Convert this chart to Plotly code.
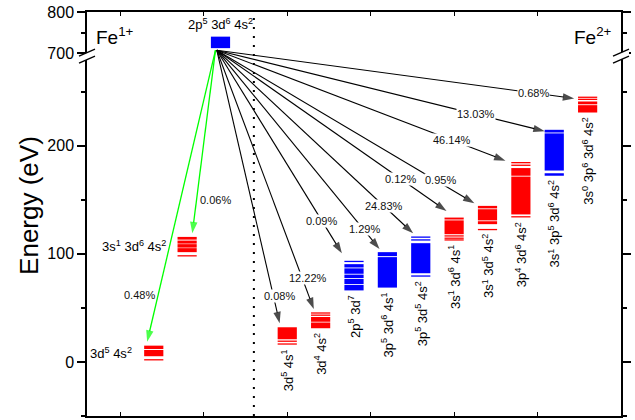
import plotly.graph_objects as go

# ---------------- data ----------------
# electron configurations (Fe1+ first, then Fe2+)
CONFIG_LABELS = [
    "3d<sup>5</sup> 4s<sup>2</sup>",
    "3s<sup>1</sup> 3d<sup>6</sup> 4s<sup>2</sup>",
    "2p<sup>5</sup> 3d<sup>6</sup> 4s<sup>2</sup>",
    "3d<sup>5</sup> 4s<sup>1</sup>",
    "3d<sup>4</sup> 4s<sup>2</sup>",
    "2p<sup>5</sup> 3d<sup>7</sup>",
    "3p<sup>5</sup> 3d<sup>6</sup> 4s<sup>1</sup>",
    "3p<sup>5</sup> 3d<sup>5</sup> 4s<sup>2</sup>",
    "3s<sup>1</sup> 3d<sup>6</sup> 4s<sup>1</sup>",
    "3s<sup>1</sup> 3d<sup>5</sup> 4s<sup>2</sup>",
    "3p<sup>4</sup> 3d<sup>6</sup> 4s<sup>2</sup>",
    "3s<sup>1</sup> 3p<sup>5</sup> 3d<sup>6</sup> 4s<sup>2</sup>",
    "3s<sup>0</sup> 3p<sup>6</sup> 3d<sup>6</sup> 4s<sup>2</sup>",
]
CONFIG_X = [1.4, 1.8, 2.2, 3.0, 3.4, 3.8, 4.2, 4.6, 5.0, 5.4, 5.8, 6.2, 6.6]
CONFIG_KIND = ["r", "r", "b", "r", "r", "b", "b", "b", "r", "r", "r", "b", "r"]

# energy bands (eV) filled solid, and isolated levels (eV)
LEVEL_BANDS = [
    [[5.3, 11.1], [12.0, 15.1]],
    [[101.6, 105.3], [105.8, 109.0], [109.5, 112.3], [113.2, 115.7]],
    [[712.0, 740.0]],
    [[21.0, 32.1]],
    [[31.2, 36.5], [37.2, 41.6]],
    [[66.2, 71.2], [72.0, 76.8], [77.6, 80.8], [81.6, 86.6], [87.4, 90.5]],
    [[68.8, 97.0], [97.9, 101.6]],
    [[82.1, 109.9]],
    [[118.2, 131.0], [131.8, 133.6]],
    [[127.5, 130.2], [131.0, 141.3], [142.1, 144.4]],
    [[136.5, 171.5], [172.3, 179.4]],
    [[172.3, 174.6], [177.1, 211.5], [212.3, 214.8]],
    [[230.8, 237.6], [238.4, 241.0]],
]
LEVEL_LINES = [
    [2.0],
    [98.2],
    [],
    [19.2, 16.6],
    [43.3, 45.3],
    [93.0],
    [],
    [115.5, 112.9, 79.5],
    [116.6, 114.5, 112.9],
    [122.5],
    [184.4, 182.0, 134.3],
    [],
    [243.0, 244.9],
]

# decay channels out of the 2p5 3d6 4s2 level of Fe1+
ARROW_SOURCE_X = 2.155
ARROW_SOURCE_E = 707.0
ARROW_END_X = [2.909, 3.318, 3.655, 4.106, 4.509, 4.909, 5.243, 5.615, 6.086, 6.439, 1.862, 1.321]
ARROW_END_E = [35.8, 49.0, 100.5, 104.5, 119.0, 139.7, 146.8, 186.2, 213.5, 243.8, 119.0, 18.7]
ARROW_BRANCH = ["0.08%", "12.22%", "0.09%", "1.29%", "24.83%", "0.12%", "0.95%",
                "46.14%", "13.03%", "0.68%", "0.06%", "0.48%"]
ARROW_KIND = ["k"] * 10 + ["g", "g"]

Y_TICKS = [0, 100, 200, 700, 800]
Y_MINOR = [-50, 50, 150, 250, 750]
X_TICKS = [1, 2, 3, 4, 5, 6]

# ---------------- styling ----------------
COLORS = {"r": "#FF0000", "b": "#0000FF"}
ARROW_COLORS = {"k": "#000000", "g": "#00FF00"}
FONT = "Liberation Sans, Arial, sans-serif"
HALF_W = 0.115

# label placement along each arrow: fraction of the way + pixel offsets
LABEL_T = [0.90, 0.88, 0.84, 0.91, 0.85, 0.80, 0.87, 0.815, 0.79, 0.886, 0.82, 0.84]
LABEL_DX = [6, 6, 0, 0, 0, 0, 0, 0, 0, 0, 19, -19]
LABEL_DY = [0, 0, 0, 2, 0, 0, 3, 0, 0, 0, 0, 0]

# broken energy axis: lower part in eV as is, upper part compressed
LOW_TOP = 282.0
HIGH_START = 690.0
HIGH_SCALE = 0.38


def disp(e):
    """Map an energy (eV) onto the broken axis coordinate."""
    if e <= LOW_TOP:
        return e
    return LOW_TOP + (e - HIGH_START) * HIGH_SCALE


fig = go.Figure()
shapes = []
annotations = []

# energy level manifolds
for i, x in enumerate(CONFIG_X):
    col = COLORS[CONFIG_KIND[i]]
    for lo, hi in LEVEL_BANDS[i]:
        shapes.append(dict(type="rect", xref="x", yref="y",
                           x0=x - HALF_W, x1=x + HALF_W, y0=disp(lo), y1=disp(hi),
                           fillcolor=col, line=dict(width=0), layer="below"))
    for e in LEVEL_LINES[i]:
        shapes.append(dict(type="line", xref="x", yref="y",
                           x0=x - HALF_W, x1=x + HALF_W, y0=disp(e), y1=disp(e),
                           line=dict(color=col, width=1.3), layer="below"))

# decay arrows
y_src = disp(ARROW_SOURCE_E)
for k in range(len(ARROW_END_X)):
    col = ARROW_COLORS[ARROW_KIND[k]]
    x1 = ARROW_END_X[k]
    y1 = disp(ARROW_END_E[k])
    x0 = ARROW_SOURCE_X - (0.015 if ARROW_KIND[k] == "g" else 0.0)
    fig.add_trace(go.Scatter(
        x=[x0, x1], y=[y_src, y1], mode="lines+markers",
        line=dict(color=col, width=1.3 if ARROW_KIND[k] == "g" else 1.1),
        marker=dict(symbol=["circle", "arrow"], size=[0, 12], color=col,
                    angleref="previous", line=dict(width=0)),
        hoverinfo="skip", showlegend=False, cliponaxis=False))
    t = LABEL_T[k]
    annotations.append(dict(
        x=x0 + t * (x1 - x0), y=y_src + t * (y1 - y_src), xref="x", yref="y",
        text=ARROW_BRANCH[k], showarrow=False, font=dict(size=11, color="#111", family=FONT),
        bgcolor="white" if ARROW_KIND[k] == "k" else "rgba(0,0,0,0)", borderpad=0,
        xshift=LABEL_DX[k], yshift=LABEL_DY[k]))

# configuration labels
for i, x in enumerate(CONFIG_X):
    lows = [b[0] for b in LEVEL_BANDS[i]] + LEVEL_LINES[i]
    highs = [b[1] for b in LEVEL_BANDS[i]] + LEVEL_LINES[i]
    bottom, top = min(lows), max(highs)
    if x > 2.6:
        annotations.append(dict(x=x, y=disp(bottom), xref="x", yref="y",
                                text=CONFIG_LABELS[i], textangle=-90, showarrow=False,
                                xanchor="center", yanchor="top", yshift=-3,
                                font=dict(size=13, color="black", family=FONT)))
    elif top > LOW_TOP:
        annotations.append(dict(x=x, y=disp(top), xref="x", yref="y",
                                text=CONFIG_LABELS[i], showarrow=False,
                                xanchor="center", yanchor="bottom", yshift=3,
                                font=dict(size=13, color="black", family=FONT)))
    else:
        annotations.append(dict(x=x - HALF_W, y=disp((bottom + top) / 2), xref="x", yref="y",
                                text=CONFIG_LABELS[i], showarrow=False,
                                xanchor="right", yanchor="middle", xshift=-10,
                                font=dict(size=13, color="black", family=FONT)))

# ion labels
annotations.append(dict(x=0, y=1, xref="paper", yref="paper", text="Fe<sup>1+</sup>",
                        showarrow=False, xanchor="left", yanchor="top", xshift=7, yshift=-10,
                        font=dict(size=19, color="black", family=FONT)))
annotations.append(dict(x=1, y=1, xref="paper", yref="paper", text="Fe<sup>2+</sup>",
                        showarrow=False, xanchor="right", yanchor="top", xshift=-7, yshift=-10,
                        font=dict(size=19, color="black", family=FONT)))

# axis title
annotations.append(dict(x=0, y=0.52, xref="paper", yref="paper", text="Energy (eV)",
                        textangle=-90, showarrow=False, xanchor="center", yanchor="middle",
                        xshift=-58, font=dict(size=26, color="black", family=FONT)))

# dotted separator between the two ions
shapes.append(dict(type="line", xref="x", yref="paper", x0=2.6, x1=2.6, y0=0, y1=1,
                   line=dict(color="black", width=2, dash="2px,7px")))

# axis break marks on both vertical axes
for side in (0, 1):
    shapes.append(dict(type="path", xref="paper", yref="y", xsizemode="pixel", ysizemode="pixel",
                       xanchor=side, yanchor=LOW_TOP,
                       path="M-8,-6 L8,1 L8,8 L-8,1 Z", fillcolor="white",
                       line=dict(width=0), layer="above"))
    for dy in (0, 7):
        shapes.append(dict(type="line", xref="paper", yref="y", xsizemode="pixel",
                           ysizemode="pixel", xanchor=side, yanchor=LOW_TOP,
                           x0=-8, x1=8, y0=-6 + dy, y1=1 + dy,
                           line=dict(color="black", width=1.3), layer="above"))

fig.update_layout(
    width=635, height=420,
    margin=dict(l=87, r=4, t=12, b=4),
    plot_bgcolor="white", paper_bgcolor="white",
    shapes=shapes, annotations=annotations,
    showlegend=False,
    xaxis=dict(range=[0.6, 7.0], tickvals=X_TICKS, showticklabels=False,
               ticks="inside", ticklen=4, tickwidth=1.3, tickcolor="black",
               showline=True, linecolor="black", linewidth=1.5, mirror="ticks",
               showgrid=False, zeroline=False),
    yaxis=dict(range=[-50, disp(800)],
               tickvals=[disp(v) for v in Y_TICKS], ticktext=[str(v) for v in Y_TICKS],
               ticks="outside", ticklen=8, tickwidth=1.5, tickcolor="black",
               tickfont=dict(size=16, color="black", family=FONT),
               minor=dict(tickvals=[disp(v) for v in Y_MINOR], ticks="outside",
                          ticklen=4, tickwidth=1.5, tickcolor="black"),
               showline=True, linecolor="black", linewidth=1.5, mirror="ticks",
               showgrid=False, zeroline=False),
)

fig.write_html("out.html")
